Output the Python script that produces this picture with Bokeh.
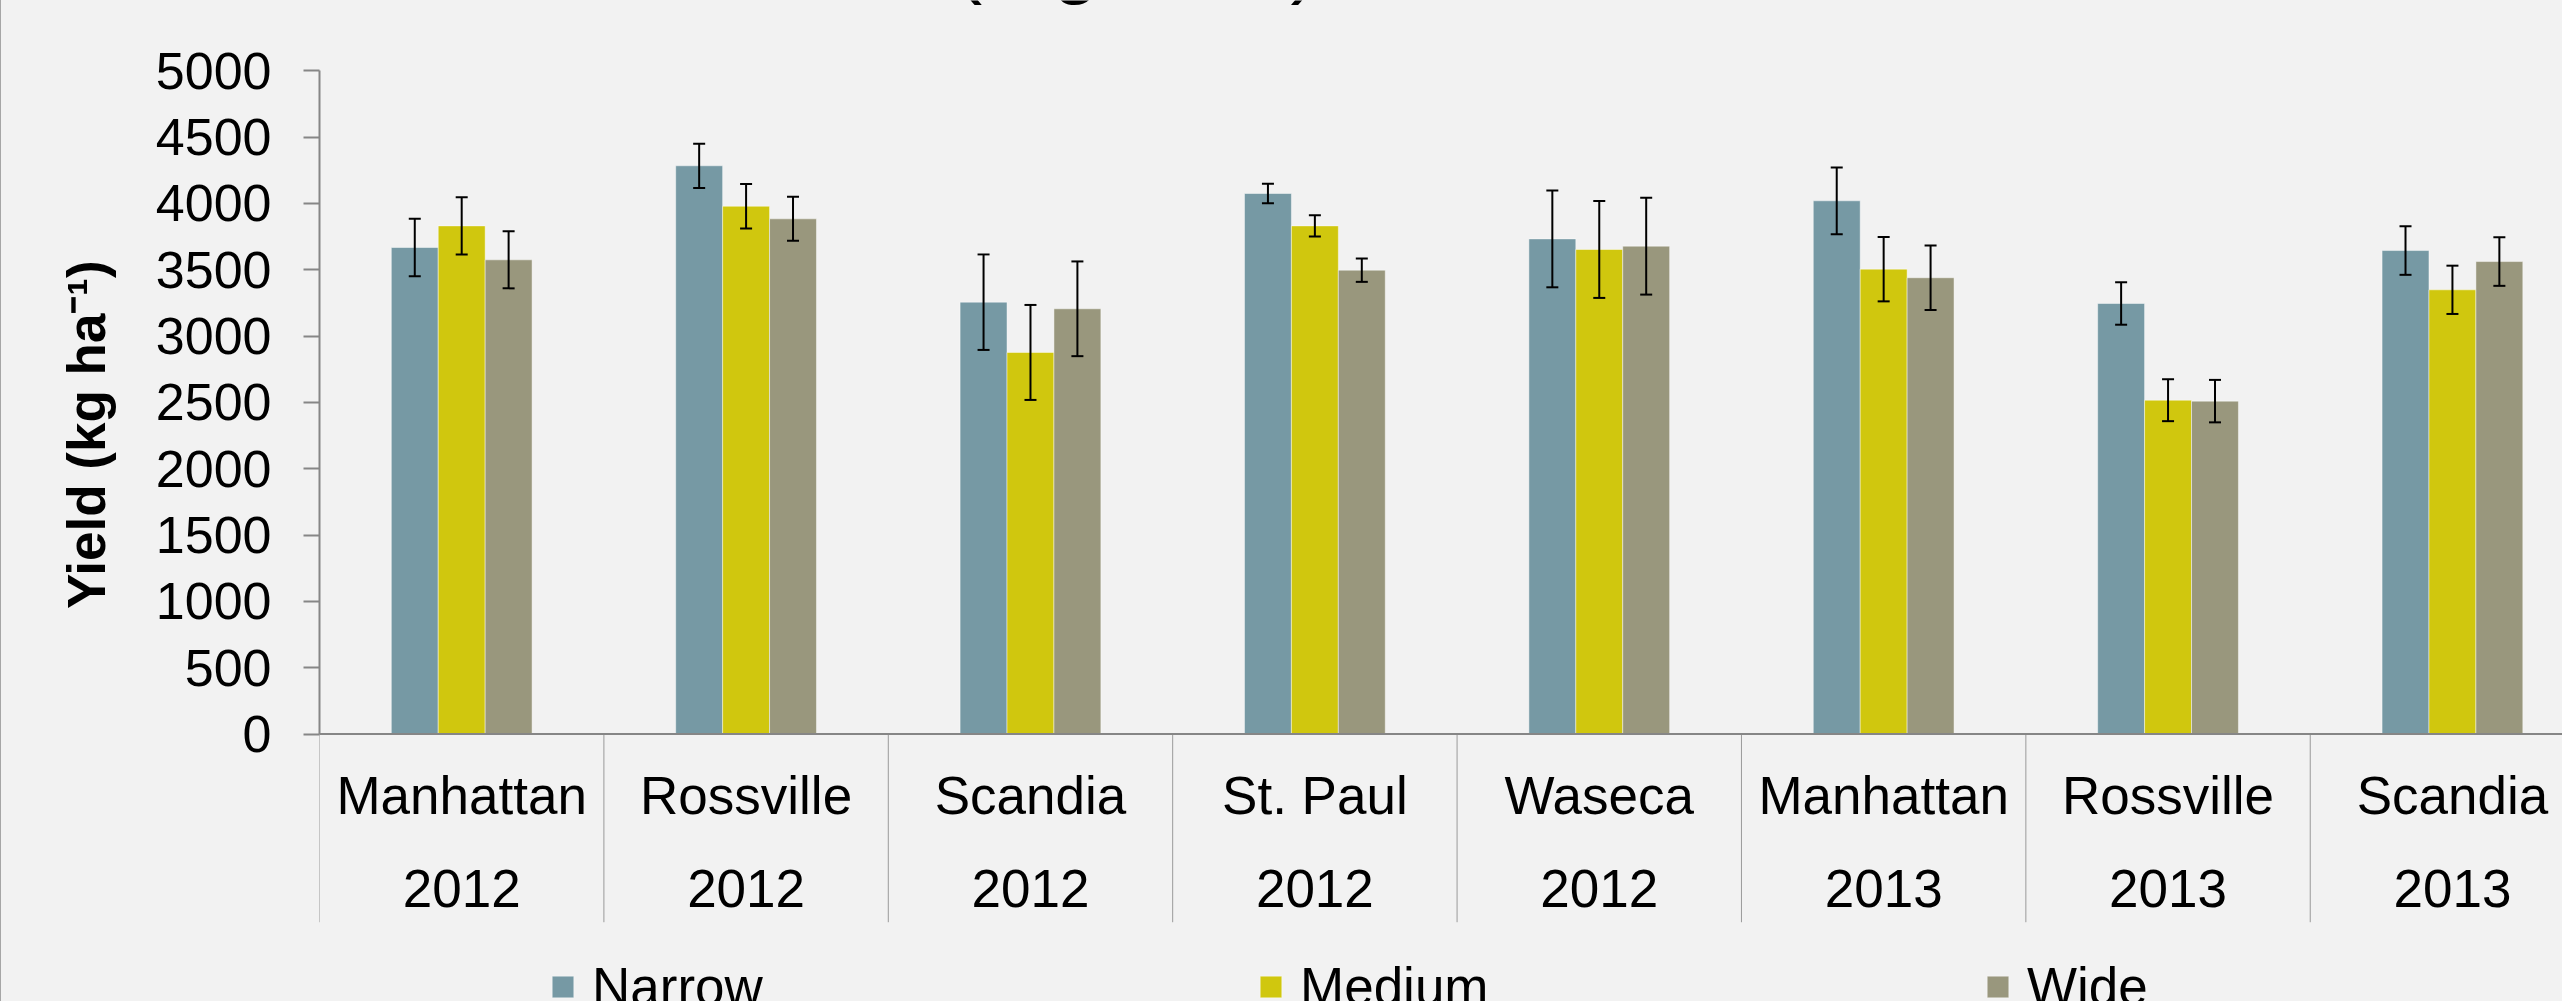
import math
import numpy as np
from bokeh.plotting import figure
from bokeh.models import (ColumnDataSource, Range1d, FixedTicker, Whisker, TeeHead,
                          Span, Label, Legend, LegendItem, LinearAxis)
from bokeh.core.properties import value
from bokeh.embed import file_html
from bokeh.resources import INLINE

# ---------------- data ----------------
locations = ["Manhattan", "Rossville", "Scandia", "St. Paul", "Waseca",
             "Manhattan", "Rossville", "Scandia"]
years = ["2012", "2012", "2012", "2012", "2012", "2013", "2013", "2013"]

narrow = [3668, 4284, 3256, 4075, 3733, 4020, 3246, 3645]
narrow_err = [216, 167, 360, 74, 365, 252, 160, 183]
medium = [3831, 3979, 2877, 3831, 3653, 3505, 2517, 3349]
medium_err = [216, 168, 358, 80, 365, 243, 158, 182]
wide = [3575, 3884, 3206, 3497, 3678, 3440, 2510, 3562]
wide_err = [215, 166, 357, 88, 365, 243, 160, 183]

series_names = ["Narrow", "Medium", "Wide"]
y_ticks = [0, 500, 1000, 1500, 2000, 2500, 3000, 3500, 4000, 4500, 5000]
title_text = "Rossville, 2012-2013 (Figure 1)"
y_label = "Yield (kg ha\u207b\u00b9)"

# ---------------- style ----------------
FONT = "Liberation Sans"
BG = "#F2F2F2"
AXIS_GRAY = "#868686"
colors = ["#7699A4", "#D0C70E", "#99977D"]
BAR_W = 0.165
offsets = [-BAR_W, 0.0, BAR_W]
LABEL_SHIFT = "\u00a0" * 9   # moves the centred y title up along the axis

p = figure(width=2562, height=1001,
           x_range=Range1d(0, 7.887), y_range=Range1d(-2015.6, 5529.9),
           output_backend="svg", toolbar_location=None, x_axis_type=None,
           min_border_left=319, min_border_right=0, min_border_top=0,
           min_border_bottom=0)
p.background_fill_color = BG
p.border_fill_color = BG
p.outline_line_color = None
p.ygrid.visible = False

ax = p.yaxis[0]
ax.bounds = (0, 5000)
ax.ticker = FixedTicker(ticks=y_ticks)
ax.minor_tick_line_color = None
ax.major_tick_in = 0
ax.major_tick_out = 16
ax.major_tick_line_color = AXIS_GRAY
ax.major_tick_line_width = 2
ax.axis_line_color = AXIS_GRAY
ax.axis_line_width = 2
ax.major_label_standoff = 32
ax.major_label_text_font = FONT
ax.major_label_text_font_size = "52px"
ax.major_label_text_color = "black"

# second (label-only) axis carrying the y title, further left
ax2 = LinearAxis(bounds=(0, 5000), ticker=FixedTicker(ticks=[]),
                 axis_line_color=None, major_tick_line_color=None,
                 minor_tick_line_color=None, major_tick_out=0, major_tick_in=0,
                 major_label_standoff=0,
                 axis_label=LABEL_SHIFT + y_label, axis_label_standoff=37,
                 axis_label_text_font=FONT, axis_label_text_font_size="53px",
                 axis_label_text_font_style="bold", axis_label_text_color="black")
p.add_layout(ax2, "left")

# x axis base line
p.add_layout(Span(location=0, dimension="width", line_color=AXIS_GRAY, line_width=2))

idx = np.arange(len(locations))
centers = idx + 0.5

renderers = []
for name, vals, errs, col, off in zip(series_names, [narrow, medium, wide],
                                      [narrow_err, medium_err, wide_err], colors, offsets):
    v = np.array(vals, dtype=float)
    e = np.array(errs, dtype=float)
    src = ColumnDataSource(dict(x=centers + off, top=v, upper=v + e, lower=v - e))
    r = p.vbar(x="x", top="top", bottom=0, width=BAR_W, source=src,
               fill_color=col, line_color="white", line_alpha=0.45, line_width=1)
    renderers.append(r)
    w = Whisker(source=src, base="x", upper="upper", lower="lower",
                line_color="black", line_width=2, level="annotation",
                upper_head=TeeHead(size=12, line_width=2, line_color="black"),
                lower_head=TeeHead(size=12, line_width=2, line_color="black"))
    p.add_layout(w)

# category dividers below the axis
bounds = np.arange(len(locations) + 1)
p.segment(x0=bounds, y0=0, x1=bounds, y1=-1418, line_color="#9A9A9A", line_width=1)

# category labels (two rows)
p.text(x=centers, y=-462, text=locations, text_font=value(FONT),
       text_font_size="53px", text_align="center", text_baseline="alphabetic",
       text_color="black")
p.text(x=centers, y=-1165, text=years, text_font=value(FONT),
       text_font_size="53px", text_align="center", text_baseline="alphabetic",
       text_color="black")

# slide title (mostly above the visible area)
p.add_layout(Label(x=-173, y=1043, x_units="screen", y_units="screen", text=title_text,
                   text_align="left", text_baseline="alphabetic", text_font=FONT,
                   text_font_size="84px", text_color="black"))

# legend
leg_x = [230, 938, 1665]
for name, r, lx in zip(series_names, renderers, leg_x):
    leg = Legend(items=[LegendItem(label=name, renderers=[r])], location=(lx, -16),
                 orientation="horizontal", glyph_width=27, glyph_height=27,
                 label_standoff=16, padding=0, margin=0, border_line_color=None,
                 background_fill_alpha=0, label_text_font=FONT,
                 label_text_font_size="53px", label_text_color="black")
    p.add_layout(leg)

html = file_html(p, INLINE)
html = html.replace(
    "</head>",
    "<style>body{background:#F2F2F2;}"
    "body::before{content:'';position:fixed;left:0;top:0;width:1px;height:100%;"
    "background:#A6A6A6;z-index:10;}</style></head>", 1)
open("out.html", "w").write(html)
